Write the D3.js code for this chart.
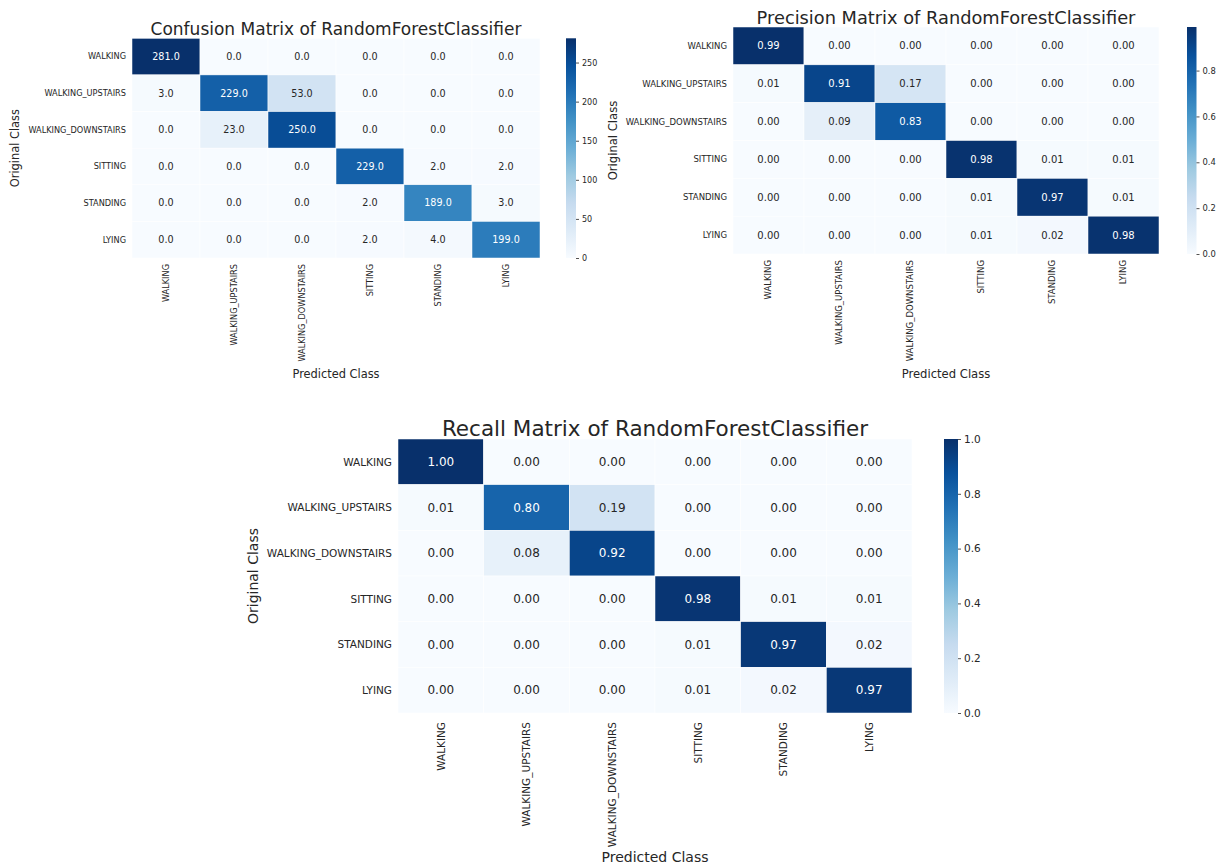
<!DOCTYPE html>
<html><head><meta charset="utf-8">
<script src="https://cdn.jsdelivr.net/npm/d3@7"></script>
<style>
body{margin:0;background:#fff}
text{font-family:"DejaVu Sans",sans-serif;fill:#262626}
</style>
</head><body>
<svg id="c" width="1223" height="865"></svg>
<script>
const classes = ["WALKING","WALKING_UPSTAIRS","WALKING_DOWNSTAIRS","SITTING","STANDING","LYING"];
const confusionValues = [
  [281, 0, 0, 0, 0, 0],
  [3, 229, 53, 0, 0, 0],
  [0, 23, 250, 0, 0, 0],
  [0, 0, 0, 229, 2, 2],
  [0, 0, 0, 2, 189, 3],
  [0, 0, 0, 2, 4, 199]
];
const precisionValues = [
  [0.99, 0.00, 0.00, 0.00, 0.00, 0.00],
  [0.01, 0.91, 0.17, 0.00, 0.00, 0.00],
  [0.00, 0.09, 0.83, 0.00, 0.00, 0.00],
  [0.00, 0.00, 0.00, 0.98, 0.01, 0.01],
  [0.00, 0.00, 0.00, 0.01, 0.97, 0.01],
  [0.00, 0.00, 0.00, 0.01, 0.02, 0.98]
];
const recallValues = [
  [1.00, 0.00, 0.00, 0.00, 0.00, 0.00],
  [0.01, 0.80, 0.19, 0.00, 0.00, 0.00],
  [0.00, 0.08, 0.92, 0.00, 0.00, 0.00],
  [0.00, 0.00, 0.00, 0.98, 0.01, 0.01],
  [0.00, 0.00, 0.00, 0.01, 0.97, 0.02],
  [0.00, 0.00, 0.00, 0.01, 0.02, 0.97]
];
const confusionTicks = [0, 50, 100, 150, 200, 250];
const precisionTicks = [0, 0.2, 0.4, 0.6, 0.8];
const recallTicks = [0, 0.2, 0.4, 0.6, 0.8, 1.0];
const titles = ["Confusion Matrix of RandomForestClassifier","Precision Matrix of RandomForestClassifier","Recall Matrix of RandomForestClassifier"];
const xAxisTitle = "Predicted Class";
const yAxisTitle = "Original Class";
const bluesStops = ["#f7fbff","#deebf7","#c6dbef","#9ecae1","#6baed6","#4292c6","#2171b5","#08519c","#08306b"];

const svg = d3.select("#c");
const interp = d3.piecewise(d3.interpolateRgb, bluesStops);

function lum(c) {
  const rgb = d3.rgb(c);
  const f = v => { v /= 255; return v <= 0.03928 ? v / 12.92 : Math.pow((v + 0.055) / 1.055, 2.4); };
  return 0.2126 * f(rgb.r) + 0.7152 * f(rgb.g) + 0.0722 * f(rgb.b);
}

let gradId = 0;
function heatmap(o) {
  const g = svg.append("g");
  const max = d3.max(o.values.flat());
  const color = d3.scaleSequential(interp).domain([0, max]);
  const x = d3.scaleBand().domain(classes).range([o.x0, o.x1]);
  const y = d3.scaleBand().domain(classes).range([o.y0, o.y1]);
  const cells = [];
  o.values.forEach((row, i) => row.forEach((v, j) => cells.push({r: classes[i], c: classes[j], v})));
  g.selectAll("rect.cell").data(cells).join("rect")
    .attr("x", d => x(d.c)).attr("y", d => y(d.r))
    .attr("width", x.bandwidth()).attr("height", y.bandwidth())
    .attr("fill", d => color(d.v))
    .attr("stroke", "#ffffff").attr("stroke-width", 0.5);
  g.selectAll("text.annot").data(cells).join("text")
    .attr("x", d => x(d.c) + x.bandwidth() / 2)
    .attr("y", d => y(d.r) + y.bandwidth() / 2)
    .attr("dy", "0.35em")
    .attr("text-anchor", "middle")
    .style("font-size", o.annotSize + "px")
    .style("fill", d => lum(color(d.v)) < 0.408 ? "#ffffff" : "#262626")
    .text(d => d3.format(o.fmt)(d.v));
  // y tick labels
  g.selectAll("text.yl").data(classes).join("text")
    .attr("x", o.x0 - 6).attr("y", d => y(d) + y.bandwidth() / 2)
    .attr("dy", "0.35em").attr("text-anchor", "end")
    .style("font-size", o.tickSize + "px").text(d => d);
  // x tick labels
  g.selectAll("text.xl").data(classes).join("text")
    .attr("transform", d => `translate(${x(d) + x.bandwidth() / 2},${o.y1 + o.xPad}) rotate(-90)`)
    .attr("dy", "0.35em").attr("text-anchor", "end")
    .style("font-size", o.tickSize + "px").text(d => d);
  // title
  g.append("text").attr("x", (o.x0 + o.x1) / 2).attr("y", o.titleY)
    .attr("text-anchor", "middle").style("font-size", o.titleSize + "px").text(o.title);
  // axis titles
  g.append("text").attr("x", (o.x0 + o.x1) / 2).attr("y", o.xTitleY)
    .attr("text-anchor", "middle").style("font-size", o.axisSize + "px").text(xAxisTitle);
  g.append("text").attr("transform", `translate(${o.yTitleX},${(o.y0 + o.y1) / 2}) rotate(-90)`)
    .attr("dy", "0.35em").attr("text-anchor", "middle").style("font-size", o.axisSize + "px").text(yAxisTitle);
  // colorbar
  const id = "grad" + (gradId++);
  const grad = svg.append("defs").append("linearGradient").attr("id", id)
    .attr("x1", 0).attr("y1", 1).attr("x2", 0).attr("y2", 0);
  bluesStops.forEach((c, i) => grad.append("stop").attr("offset", i / (bluesStops.length - 1)).attr("stop-color", c));
  g.append("rect").attr("x", o.cbX).attr("y", o.y0).attr("width", o.cbW).attr("height", o.y1 - o.y0)
    .attr("fill", `url(#${id})`);
  const cy = d3.scaleLinear().domain([0, max]).range([o.y1, o.y0]);
  const ax = g.append("g").attr("transform", `translate(${o.cbX + o.cbW},0)`)
    .call(d3.axisRight(cy).tickValues(o.ticks).tickSize(3).tickPadding(3).tickFormat(d3.format(o.tickFmt)));
  ax.select(".domain").remove();
  ax.selectAll("line").attr("stroke", "#262626").attr("stroke-width", 0.8);
  ax.selectAll("text").attr("fill", null).style("font-size", o.cbFont + "px").style("font-family", '"DejaVu Sans",sans-serif');
}

heatmap({values: confusionValues, title: titles[0], fmt: ".1f", ticks: confusionTicks, tickFmt: "d",
  x0: 132, x1: 540, y0: 38.3, y1: 258, titleY: 35, titleSize: 17, tickSize: 8.2, annotSize: 9.6,
  axisSize: 11.4, yTitleX: 15, xTitleY: 378, xPad: 6, cbX: 566, cbW: 10, cbFont: 8});
heatmap({values: precisionValues, title: titles[1], fmt: ".2f", ticks: precisionTicks, tickFmt: ".1f",
  x0: 733, x1: 1159, y0: 27, y1: 254, titleY: 24, titleSize: 17.8, tickSize: 8.5, annotSize: 10,
  axisSize: 11.6, yTitleX: 613, xTitleY: 378, xPad: 6, cbX: 1187, cbW: 9.5, cbFont: 8.4});
heatmap({values: recallValues, title: titles[2], fmt: ".2f", ticks: recallTicks, tickFmt: ".1f",
  x0: 398, x1: 912, y0: 439, y1: 713, titleY: 436, titleSize: 21.5, tickSize: 10.5, annotSize: 12,
  axisSize: 14, yTitleX: 253, xTitleY: 862, xPad: 9, cbX: 944, cbW: 14, cbFont: 10.5});
</script>
</body></html>
